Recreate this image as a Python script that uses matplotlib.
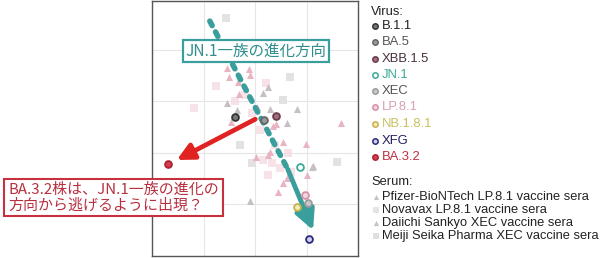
import matplotlib
matplotlib.use("Agg")
import matplotlib.pyplot as plt

# ─── Data (antigenic map units) ───────────────────────────────────────────────

virus_names = ["B.1.1", "BA.5", "XBB.1.5", "JN.1", "XEC", "LP.8.1", "NB.1.8.1", "XFG", "BA.3.2"]
virus_x = [1.61, 2.17, 2.40, 2.87, 3.02, 2.97, 2.81, 3.04, 0.31]
virus_y = [2.69, 2.64, 2.71, 1.72, 1.03, 1.18, 0.95, 0.33, 1.78]
virus_edge = ["#333333", "#666666", "#6a3a4a", "#3aaa9a", "#9a9a9a", "#d890a8", "#c8b048", "#2a2a80", "#b02030"]
virus_face = ["#777777", "#999999", "#a07080", "#ffffff", "#c8c8c8", "#f3d6e0", "#f3ecb8", "#d0d0ec", "#d04050"]
virus_text = ["#222222", "#555555", "#4a3040", "#3aaa9a", "#555555", "#d8a0b0", "#c8c060", "#202060", "#c03040"]

# Pfizer-BioNTech LP.8.1 (pink triangles)
pfizer_x = [1.45, 1.49, 1.67, 1.88, 1.90, 2.03, 2.34, 2.54, 2.98, 2.02, 2.25, 3.66, 3.00,
            2.62, 2.44, 1.53, 1.69, 2.29, 2.54, 2.41]
pfizer_y = [3.64, 3.47, 3.37, 3.62, 3.51, 2.89, 2.52, 2.21, 2.17, 1.92, 1.96, 2.58, 1.57,
            1.51, 1.24, 2.60, 3.14, 2.02, 1.41, 2.55]
# Daiichi Sankyo XEC (grey triangles)
daiichi_x = [2.25, 1.65, 2.29, 2.62, 3.10, 1.90, 2.15, 1.45, 2.81, 3.12]
daiichi_y = [3.28, 2.83, 2.85, 2.58, 1.72, 1.07, 3.16, 2.97, 2.85, 1.74]
# Novavax LP.8.1 (light pink squares)
novavax_x = [1.24, 0.81, 2.21, 1.94, 2.15, 2.33, 2.64, 1.80, 2.09, 2.38, 2.48, 2.25, 1.60, 2.70]
novavax_y = [3.29, 2.87, 3.35, 2.77, 1.86, 1.80, 2.00, 3.12, 2.44, 2.15, 1.71, 1.57, 3.00, 1.62]
# Meiji Seika Pharma XEC (light grey squares)
meiji_x = [1.43, 2.67, 3.59, 1.94, 2.54, 1.71]
meiji_y = [4.61, 3.47, 1.82, 1.80, 3.02, 2.15]

serum_names = ["Pfizer-BioNTech LP.8.1 vaccine sera", "Novavax LP.8.1 vaccine sera",
               "Daiichi Sankyo XEC vaccine sera", "Meiji Seika Pharma XEC vaccine sera"]

# direction arrows
jn1_dots = [(1.12, 4.55), (2.63, 1.68)]
jn1_arrow = [(2.63, 1.68), (3.12, 0.50)]
ba32_arrow = [(2.00, 2.65), (0.48, 1.86)]

TEAL = "#3a9e9c"
RED = "#e02222"

# ─── Figure ───────────────────────────────────────────────────────────────────

fig = plt.figure(figsize=(6, 2.58), dpi=100)
ax = fig.add_axes([152 / 600, 2 / 258, 206 / 600, 255 / 258])
ax.set_xlim(0, 3.99)
ax.set_ylim(0, 4.94)
ax.set_xticks([1, 2, 3])
ax.set_yticks([1, 2, 3, 4])
ax.tick_params(length=0, labelbottom=False, labelleft=False)
ax.grid(True, color="#e6e6e6", lw=0.8)
ax.set_axisbelow(True)
for s in ax.spines.values():
    s.set_color("#555555")
    s.set_linewidth(1.0)

ax.scatter(meiji_x, meiji_y, marker="s", s=28, color="#e2e2e2", lw=0, zorder=2)
ax.scatter(novavax_x, novavax_y, marker="s", s=28, color="#f6dde3", alpha=0.85, lw=0, zorder=2)
ax.scatter(daiichi_x, daiichi_y, marker="^", s=26, color="#c6bfc3", lw=0, zorder=2)
ax.scatter(pfizer_x, pfizer_y, marker="^", s=26, color="#e9b4c2", lw=0, zorder=2)

# JN.1 lineage direction
ax.plot([p[0] for p in jn1_dots], [p[1] for p in jn1_dots], color=TEAL, lw=4,
        ls=(0, (0.9, 1.3)), dash_capstyle="round", zorder=4)
ax.annotate("", xy=jn1_arrow[1], xytext=jn1_arrow[0],
            arrowprops=dict(arrowstyle="-|>", color=TEAL, lw=3.5, mutation_scale=30,
                            shrinkA=0, shrinkB=0), zorder=4)
ax.annotate("", xy=ba32_arrow[1], xytext=ba32_arrow[0],
            arrowprops=dict(arrowstyle="-|>", color=RED, lw=3.4, mutation_scale=25,
                            shrinkA=0, shrinkB=0), zorder=4)

for i in range(len(virus_names)):
    ax.scatter(virus_x[i], virus_y[i], s=24, facecolor=virus_face[i],
               edgecolor=virus_edge[i], lw=1.3, zorder=5)

ax.text(2.01, 3.97, "JN.1一族の進化方向", fontsize=11.2, color="#2f8f8f",
        family=["Noto Sans CJK JP", "DejaVu Sans"], ha="center", va="center", zorder=6,
        bbox=dict(boxstyle="square,pad=0.15", fc="white", ec=TEAL, lw=1.6))

fig.text(8 / 600, 1 - 197.5 / 258, "BA.3.2株は、JN.1一族の進化の\n方向から逃げるように出現？",
         fontsize=10.8, color="#b83040", family=["Noto Sans CJK JP", "DejaVu Sans"],
         ha="left", va="center", linespacing=1.12, zorder=6,
         bbox=dict(boxstyle="square,pad=0.25", fc="white", ec="#c83040", lw=1.5))

# ─── Legend (pixel coordinates) ───────────────────────────────────────────────

lax = fig.add_axes([0, 0, 1, 1])
lax.set_xlim(0, 600)
lax.set_ylim(258, 0)
lax.axis("off")
LEG_FONT = ["Liberation Sans", "DejaVu Sans"]

lax.text(371, 12, "Virus:", fontsize=9.3, family=LEG_FONT, color="#222222", va="center")
virus_rows = [26, 42, 59, 75, 91, 107, 124, 141, 157]
for i, name in enumerate(virus_names):
    lax.scatter(374.5, virus_rows[i], s=15, facecolor=virus_face[i], edgecolor=virus_edge[i], lw=1.1)
    lax.text(381.5, virus_rows[i], name, fontsize=9.4, family=LEG_FONT, color=virus_text[i], va="center")

lax.text(371, 182, "Serum:", fontsize=9.3, family=LEG_FONT, color="#222222", va="center")
serum_rows = [197, 210, 223, 236]
serum_marks = ["^", "s", "^", "s"]
serum_cols = ["#c8c0c4", "#e4e4e4", "#c8c0c4", "#e0e0e0"]
for i, name in enumerate(serum_names):
    lax.scatter(375.5, serum_rows[i], marker=serum_marks[i], s=14, color=serum_cols[i], lw=0)
    lax.text(381.5, serum_rows[i], name, fontsize=9.3, family=LEG_FONT, color="#222222", va="center")

fig.savefig("out.png", dpi=100)
